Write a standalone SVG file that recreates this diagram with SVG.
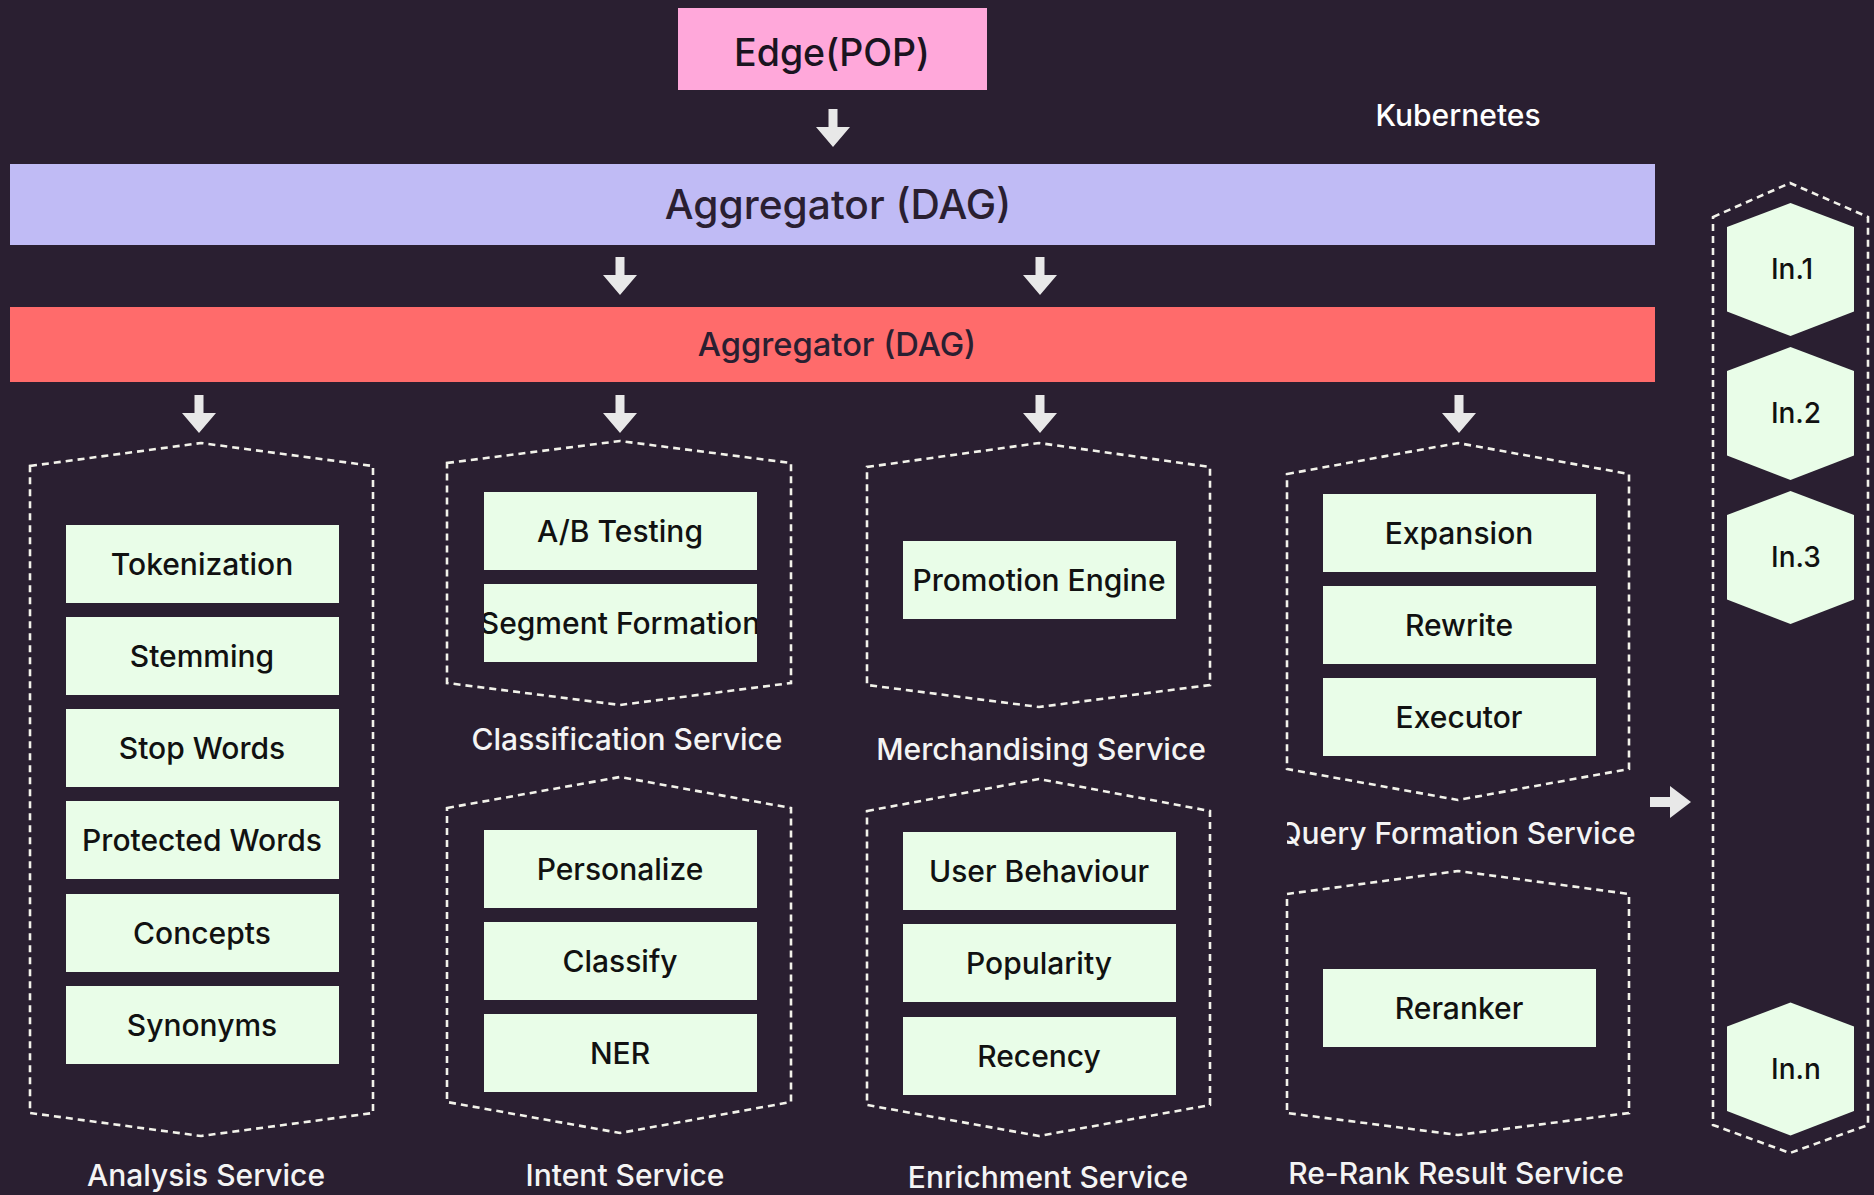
<svg xmlns="http://www.w3.org/2000/svg" width="1874" height="1195" viewBox="0 0 1874 1195">
  <style>
    .bg { fill: #2a1f31; }
    .box { fill: #e9fde8; }
    .boxtxt { font-family: Inter, "Noto Sans", sans-serif; font-size: 30px; font-weight: 500; fill: #111111; text-anchor: middle; }
    .hextxt { font-family: Inter, "Noto Sans", sans-serif; font-size: 28px; font-weight: 500; fill: #111111; text-anchor: middle; }
    .svc { fill: none; stroke: #f2f2ea; stroke-width: 2.6; stroke-dasharray: 7 5; }
    .svclabel { font-family: Inter, "Noto Sans", sans-serif; font-size: 30px; font-weight: 500; fill: #f4f4f4; text-anchor: middle; }
    .arrow { fill: #e8e8e8; }
    .hex { fill: #e9fde8; }
  </style>
  <defs>
    <!-- down arrow, tip at origin -->
    <polygon id="down" points="-4.5,-38 4.5,-38 4.5,-20 17,-20 0,0 -17,-20 -4.5,-20"/>
    <polygon id="hexshape" points="0,-66.5 63.5,-42.5 63.5,42 0,66.5 -63.5,42 -63.5,-42.5"/>
    <clipPath id="segclip"><rect x="484" y="584" width="273" height="78"/></clipPath>
    <clipPath id="qfclip"><rect x="1287" y="800" width="360" height="60"/></clipPath>
  </defs>

  <rect class="bg" x="0" y="0" width="1874" height="1195"/>

  <!-- entry point -->
  <g id="edge-pop">
    <rect x="678" y="8" width="309" height="82" fill="#ffa8da"/>
    <text x="832" y="66" font-family="Inter, 'Noto Sans', sans-serif" font-size="37.5" font-weight="500" fill="#1a1420" text-anchor="middle">Edge(POP)</text>
  </g>

  <g id="kubernetes-label">
    <text x="1458" y="126" font-family="Inter, 'Noto Sans', sans-serif" font-size="30" font-weight="500" fill="#ffffff" text-anchor="middle">Kubernetes</text>
  </g>

  <g id="aggregator-top">
    <rect x="10" y="164" width="1645" height="81" fill="#c0bbf5"/>
    <text x="838" y="219" font-family="Inter, 'Noto Sans', sans-serif" font-size="40.7" font-weight="500" fill="#2a1f31" text-anchor="middle">Aggregator (DAG)</text>
  </g>

  <g id="aggregator-bottom">
    <rect x="10" y="307" width="1645" height="75" fill="#ff6b6b"/>
    <text x="837" y="356" font-family="Inter, 'Noto Sans', sans-serif" font-size="32.7" font-weight="500" fill="#2a1f31" text-anchor="middle">Aggregator (DAG)</text>
  </g>

  <!-- connectors -->
  <g id="connectors" class="arrow">
    <use href="#down" x="833" y="147"/>
    <use href="#down" x="620" y="295"/>
    <use href="#down" x="1040" y="295"/>
    <use href="#down" x="199" y="433"/>
    <use href="#down" x="620" y="433"/>
    <use href="#down" x="1040" y="433"/>
    <use href="#down" x="1459" y="433"/>
    <polygon points="1650,797 1670,797 1670,786 1691,802 1670,818 1670,807 1650,807"/>
  </g>

  <!-- Analysis Service -->
  <g id="analysis-service">
    <polygon class="svc" points="30,466 201,443 373,466 373,1113 201,1136 30,1113"/>
    <rect class="box" x="66" y="525" width="273" height="78"/>
    <text class="boxtxt" x="202" y="575">Tokenization</text>
    <rect class="box" x="66" y="617" width="273" height="78"/>
    <text class="boxtxt" x="202" y="667">Stemming</text>
    <rect class="box" x="66" y="709" width="273" height="78"/>
    <text class="boxtxt" x="202" y="759">Stop Words</text>
    <rect class="box" x="66" y="801" width="273" height="78"/>
    <text class="boxtxt" x="202" y="851">Protected Words</text>
    <rect class="box" x="66" y="894" width="273" height="78"/>
    <text class="boxtxt" x="202" y="944">Concepts</text>
    <rect class="box" x="66" y="986" width="273" height="78"/>
    <text class="boxtxt" x="202" y="1036">Synonyms</text>
    <text class="svclabel" x="206" y="1186">Analysis Service</text>
  </g>

  <!-- Classification Service -->
  <g id="classification-service">
    <polygon class="svc" points="447,463 620,441 791,463 791,683 620,705 447,683"/>
    <rect class="box" x="484" y="492" width="273" height="78"/>
    <text class="boxtxt" x="620" y="542">A/B  Testing</text>
    <rect class="box" x="484" y="584" width="273" height="78"/>
    <text class="boxtxt" x="620" y="634" clip-path="url(#segclip)">Segment Formation</text>
    <text class="svclabel" x="627" y="750">Classification Service</text>
  </g>

  <!-- Intent Service -->
  <g id="intent-service">
    <polygon class="svc" points="447,808 620,777 791,808 791,1102 620,1133 447,1102"/>
    <rect class="box" x="484" y="830" width="273" height="78"/>
    <text class="boxtxt" x="620" y="880">Personalize</text>
    <rect class="box" x="484" y="922" width="273" height="78"/>
    <text class="boxtxt" x="620" y="972">Classify</text>
    <rect class="box" x="484" y="1014" width="273" height="78"/>
    <text class="boxtxt" x="620" y="1064">NER</text>
    <text class="svclabel" x="625" y="1186">Intent Service</text>
  </g>

  <!-- Merchandising Service -->
  <g id="merchandising-service">
    <polygon class="svc" points="867,467 1039,443 1210,467 1210,685 1039,707 867,685"/>
    <rect class="box" x="903" y="541" width="273" height="78"/>
    <text class="boxtxt" x="1039" y="591">Promotion Engine</text>
    <text class="svclabel" x="1041" y="760">Merchandising Service</text>
  </g>

  <!-- Enrichment Service -->
  <g id="enrichment-service">
    <polygon class="svc" points="867,811 1039,779 1210,811 1210,1105 1039,1136 867,1105"/>
    <rect class="box" x="903" y="832" width="273" height="78"/>
    <text class="boxtxt" x="1039" y="882">User Behaviour</text>
    <rect class="box" x="903" y="924" width="273" height="78"/>
    <text class="boxtxt" x="1039" y="974">Popularity</text>
    <rect class="box" x="903" y="1017" width="273" height="78"/>
    <text class="boxtxt" x="1039" y="1067">Recency</text>
    <text class="svclabel" x="1048" y="1188">Enrichment Service</text>
  </g>

  <!-- Query Formation Service -->
  <g id="query-formation-service">
    <polygon class="svc" points="1287,474 1458,443 1629,474 1629,769 1458,800 1287,769"/>
    <rect class="box" x="1323" y="494" width="273" height="78"/>
    <text class="boxtxt" x="1459" y="544">Expansion</text>
    <rect class="box" x="1323" y="586" width="273" height="78"/>
    <text class="boxtxt" x="1459" y="636">Rewrite</text>
    <rect class="box" x="1323" y="678" width="273" height="78"/>
    <text class="boxtxt" x="1459" y="728">Executor</text>
    <text class="svclabel" x="1457" y="844" clip-path="url(#qfclip)">Query Formation Service</text>
  </g>

  <!-- Re-Rank Result Service -->
  <g id="rerank-service">
    <polygon class="svc" points="1287,894 1458,871 1629,894 1629,1113 1458,1135 1287,1113"/>
    <rect class="box" x="1323" y="969" width="273" height="78"/>
    <text class="boxtxt" x="1459" y="1019">Reranker</text>
    <text class="svclabel" x="1456" y="1184">Re-Rank Result Service</text>
  </g>

  <!-- Kubernetes instances -->
  <g id="instances">
    <polygon class="svc" points="1713,217 1790,183 1868,217 1868,1125 1790,1153 1713,1125"/>
    <g id="in-1">
      <use href="#hexshape" class="hex" x="1790.5" y="269.5"/>
      <text class="hextxt" x="1792" y="279">In.1</text>
    </g>
    <g id="in-2">
      <use href="#hexshape" class="hex" x="1790.5" y="413.5"/>
      <text class="hextxt" x="1796" y="423">In.2</text>
    </g>
    <g id="in-3">
      <use href="#hexshape" class="hex" x="1790.5" y="557.5"/>
      <text class="hextxt" x="1796" y="567">In.3</text>
    </g>
    <g id="in-n">
      <use href="#hexshape" class="hex" x="1790.5" y="1069"/>
      <text class="hextxt" x="1796" y="1079">In.n</text>
    </g>
  </g>
</svg>
